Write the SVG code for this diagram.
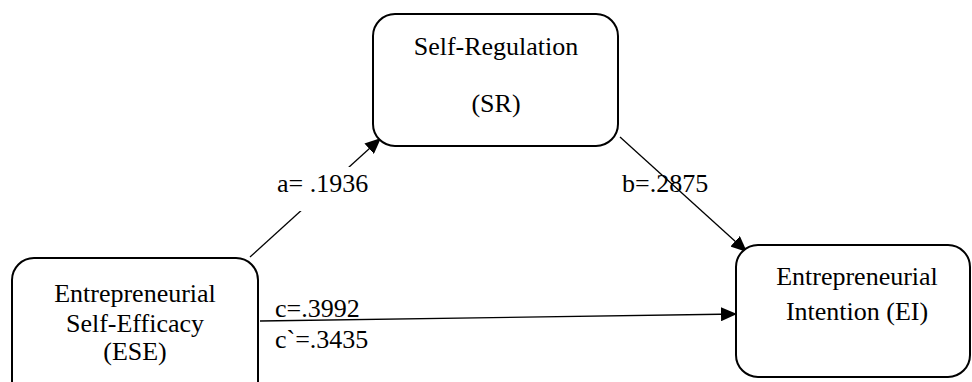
<svg xmlns="http://www.w3.org/2000/svg" width="972" height="382" viewBox="0 0 972 382">
<style>
.box{fill:#fff;stroke:#000;stroke-width:2}
.t{font-family:'Liberation Serif','DejaVu Serif',serif;font-size:26px;fill:#000;text-anchor:middle}
.lbl{font-family:'Liberation Serif','DejaVu Serif',serif;font-size:26px;fill:#000}
.edge{stroke:#000;stroke-width:1.3;fill:none}
</style>
<defs>
<marker id="arr" viewBox="0 0 16 14" refX="16" refY="7" markerWidth="16" markerHeight="14" markerUnits="userSpaceOnUse" orient="auto">
<path d="M0,0 L16,7 L0,14 Z" fill="#000"/>
</marker>
</defs>
<rect width="972" height="382" fill="#fff"/>
<g id="connectors">
<line class="edge" x1="250" y1="257" x2="381" y2="138" marker-end="url(#arr)"/>
<line class="edge" x1="620" y1="137" x2="747" y2="252" marker-end="url(#arr)"/>
<line class="edge" x1="260" y1="321" x2="737" y2="314" marker-end="url(#arr)"/>
<rect x="274" y="167" width="102" height="44" fill="#fff"/>
<text class="lbl" x="277" y="192">a= .1936</text>
<text class="lbl" x="622" y="192">b=.2875</text>
<text class="lbl" x="275" y="317">c=.3992</text>
<text class="lbl" x="275" y="348">c`=.3435</text>
</g>
<g id="SR">
<rect class="box" x="373" y="14" width="245" height="132" rx="22"/>
<text class="t" x="496" y="55">Self-Regulation</text>
<text class="t" x="496" y="112">(SR)</text>
</g>
<g id="ESE">
<rect class="box" x="12" y="258" width="246" height="150" rx="22"/>
<text class="t" x="135" y="302">Entrepreneurial</text>
<text class="t" x="135" y="332">Self-Efficacy</text>
<text class="t" x="135" y="360">(ESE)</text>
</g>
<g id="EI">
<rect class="box" x="736" y="245" width="234" height="132" rx="22"/>
<text class="t" x="857" y="285">Entrepreneurial</text>
<text class="t" x="857" y="320">Intention (EI)</text>
</g>
</svg>
